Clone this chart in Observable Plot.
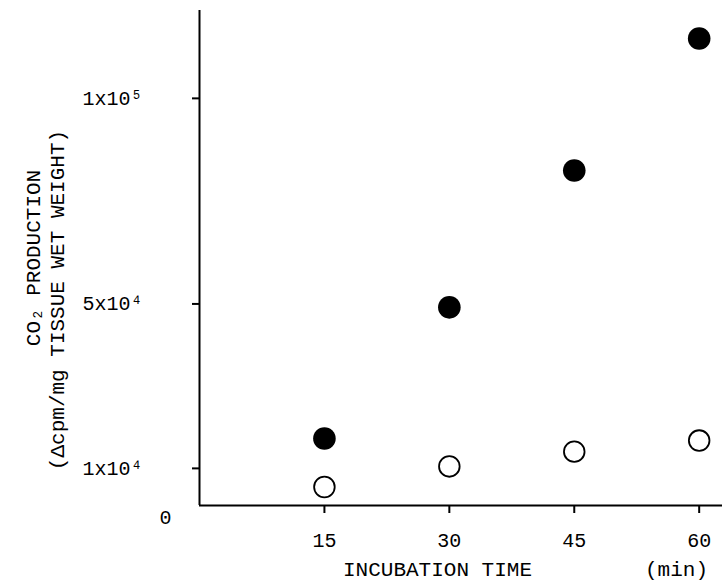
<!DOCTYPE html>
<html>
<head>
<meta charset="utf-8">
<script src="https://cdn.jsdelivr.net/npm/d3@7"></script>
<script src="https://cdn.jsdelivr.net/npm/@observablehq/plot@0.6"></script>
<style>
  html, body { margin: 0; padding: 0; background: #fff; }
</style>
</head>
<body>
<div id="chart"></div>
<script>
// Incubation times (min)
const times = [15, 30, 45, 60];
// CO2 production (Δcpm/mg tissue wet weight)
const filledValues = [16300, 48200, 81500, 113600];
const openValues = [4500, 9500, 13100, 15800];
// Axis ticks
const xTicks = [15, 30, 45, 60];
const yTicks = [10000, 50000, 100000];
const yTickLabels = ["1x10⁴", "5x10⁴", "1x10⁵"];
const zeroTick = [0];
const xTitle = "INCUBATION TIME";
const xUnit = "(min)";
const yTitle1 = "CO₂ PRODUCTION";
const yTitle2 = "(Δcpm/mg TISSUE WET WEIGHT)";

const filled = times.map((t, i) => ({t, v: filledValues[i]}));
const open = times.map((t, i) => ({t, v: openValues[i]}));

const font = "'Liberation Mono', 'DejaVu Sans Mono', monospace";

const chart = Plot.plot({
  width: 724,
  height: 586,
  marginLeft: 199,
  marginRight: 2,
  marginTop: 10,
  marginBottom: 81,
  style: {fontFamily: font, fontSize: "20px", color: "#000", background: "#fff"},
  x: {domain: [0, 62.8]},
  y: {domain: [0, 120400]},
  marks: [
    Plot.axisX({
      ticks: xTicks, tickSize: 8, tickPadding: 19, strokeWidth: 2,
      label: null, fontSize: 20
    }),
    Plot.axisY({
      ticks: yTicks, tickSize: 7, tickPadding: 110, strokeWidth: 2,
      textAnchor: "start", dy: 4,
      tickFormat: (d) => yTickLabels[yTicks.indexOf(d)],
      label: null, fontSize: 20
    }),
    Plot.axisY({
      ticks: zeroTick, tickSize: 0, tickPadding: 34,
      textAnchor: "middle", dy: 12,
      tickFormat: (d) => String(d), label: null, fontSize: 20
    }),
    Plot.ruleX([0], {strokeWidth: 2}),
    Plot.ruleY([0], {strokeWidth: 2}),
    Plot.dot(open, {x: "t", y: "v", r: 10.3, fill: "#fff", stroke: "#000", strokeWidth: 1.8}),
    Plot.dot(filled, {x: "t", y: "v", r: 11.3, fill: "#000", stroke: "none"}),
    Plot.text([xTitle], {frameAnchor: "bottom", textAnchor: "start", dx: -118, dy: 70, fontSize: 21}),
    Plot.text([xUnit], {frameAnchor: "bottom", textAnchor: "start", dx: 184, dy: 70, fontSize: 21}),
    Plot.text([yTitle1], {frameAnchor: "left", textAnchor: "middle", rotate: -90, dx: -166, dy: 0, fontSize: 21}),
    Plot.text([yTitle2], {frameAnchor: "left", textAnchor: "middle", rotate: -90, dx: -142, dy: 42, fontSize: 21})
  ]
});

document.getElementById("chart").appendChild(chart);
</script>
</body>
</html>
